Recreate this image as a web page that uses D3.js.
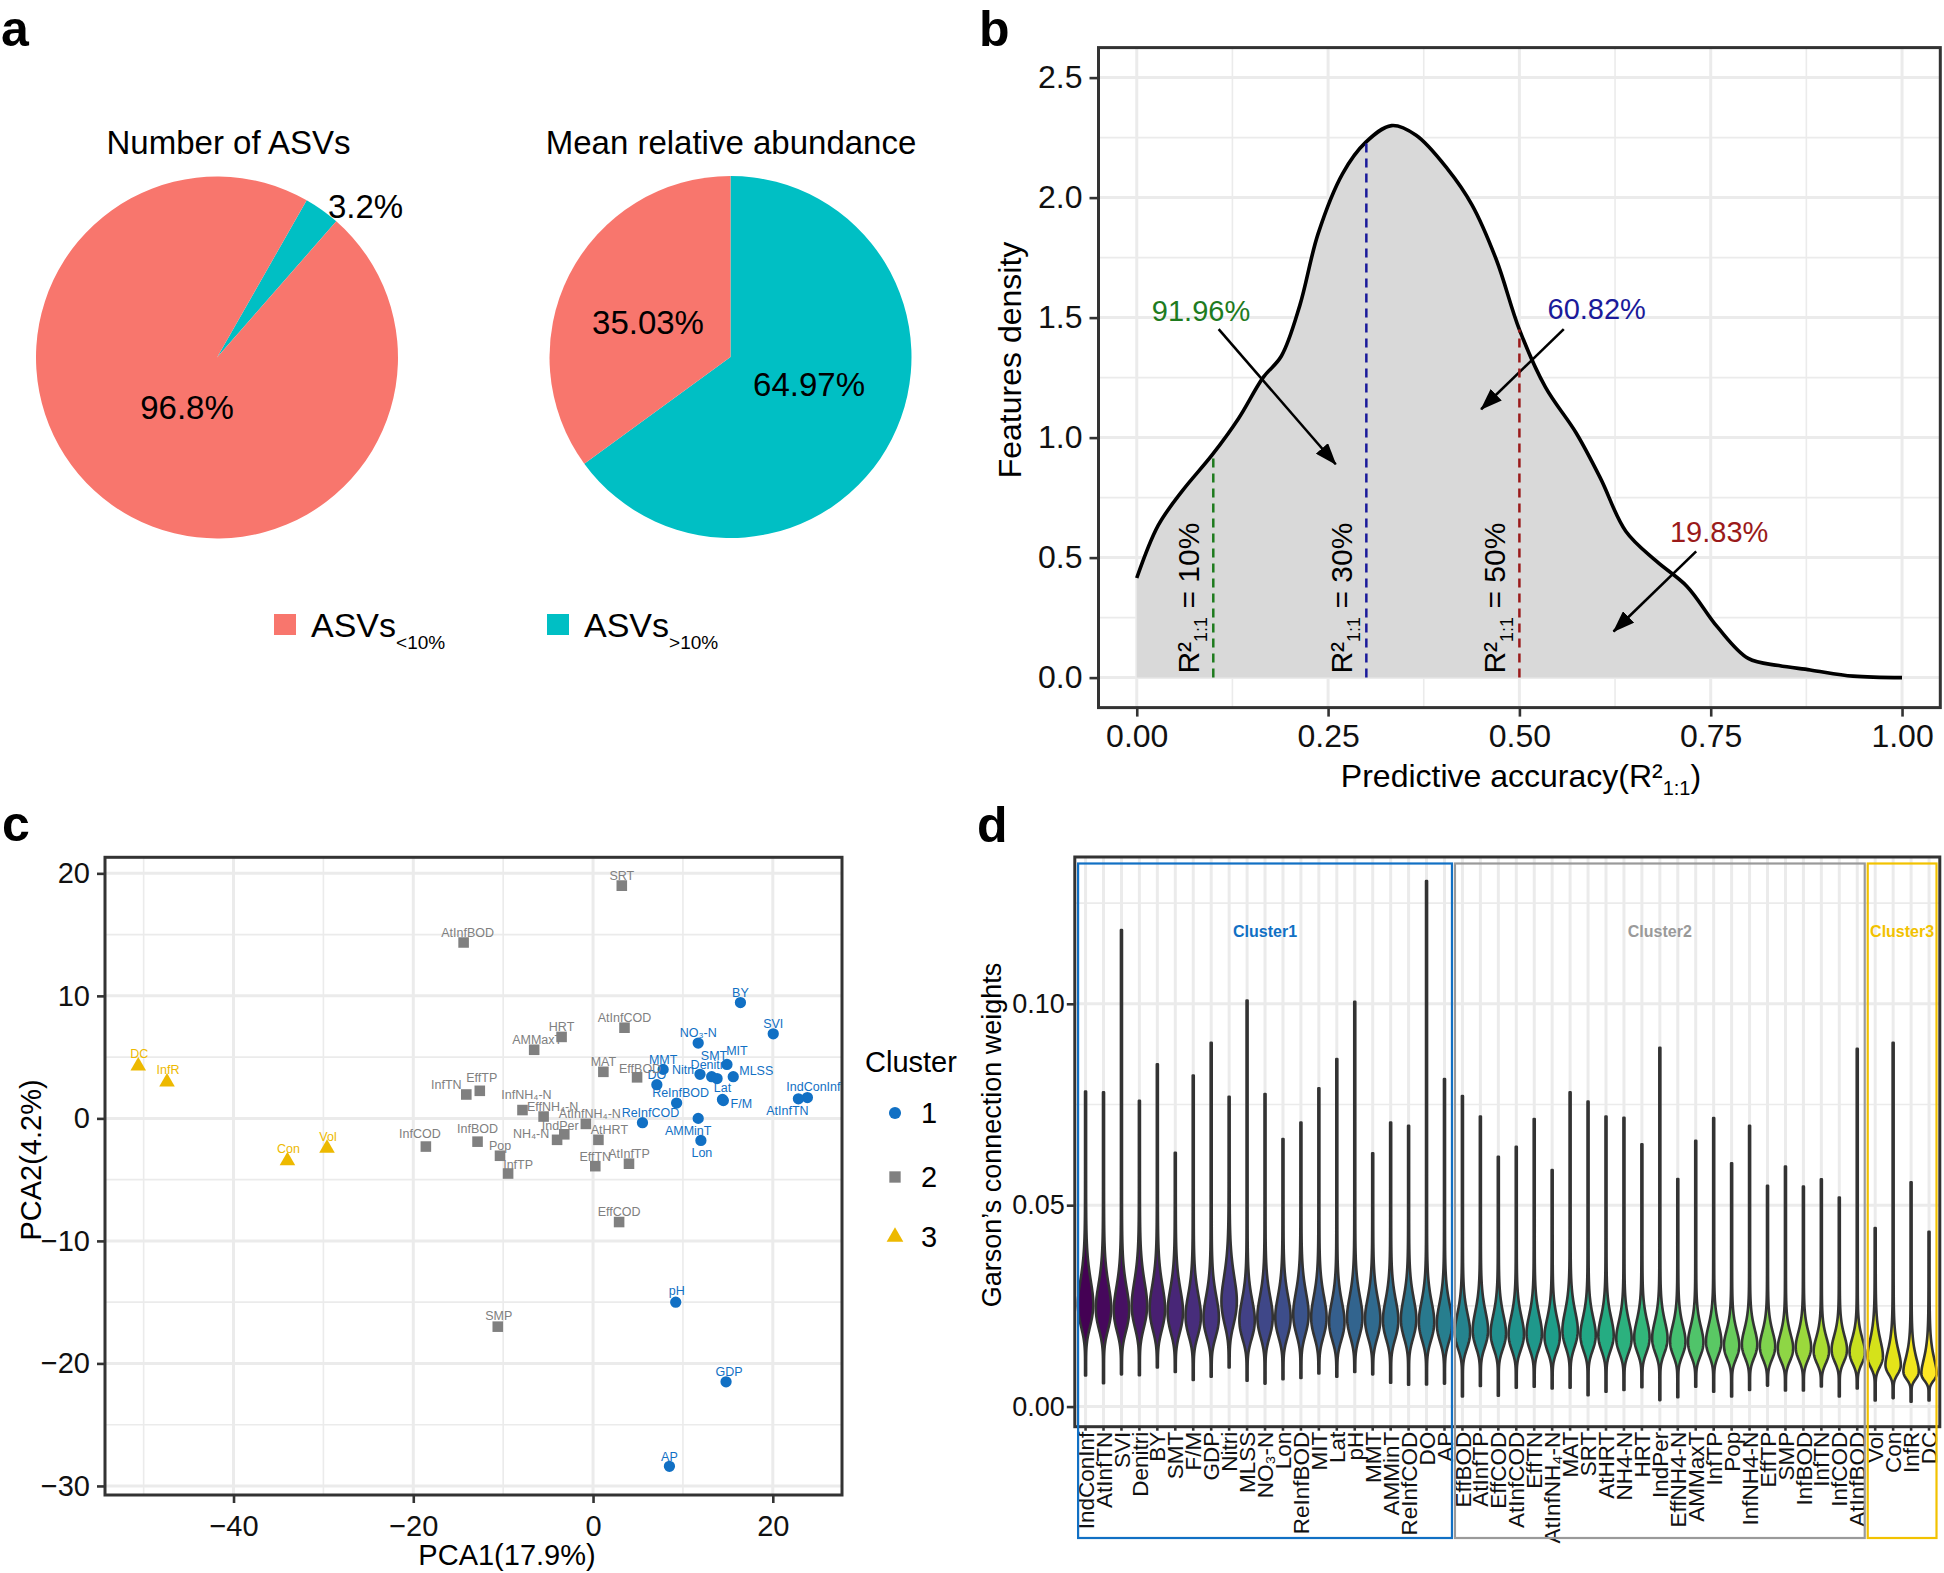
<!DOCTYPE html>
<html>
<head>
<meta charset="utf-8">
<title>Figure</title>
<script src="https://cdn.jsdelivr.net/npm/d3@7"></script>
<style>
html,body{margin:0;padding:0;background:#fff;}
svg{display:block;}
</style>
</head>
<body>
<div id="chart"></div>
<script>
// ===================== DATA =====================
// Panel a — pies (percent)
const asvGroups = ["ASVs>10%", "ASVs<10%"];
const numberOfASVs = [3.2, 96.8];
const meanRelAbundance = [64.97, 35.03];
const numberLabels = ["3.2%", "96.8%"];
const meanLabels = ["64.97%", "35.03%"];

// Panel b — density of predictive accuracy
const accuracyX = [0,0.028,0.06,0.099,0.133,0.165,0.189,0.213,0.237,0.269,0.299,0.333,0.365,0.406,0.438,0.47,0.5,0.534,0.574,0.606,0.639,0.679,0.719,0.759,0.799,0.839,0.88,0.936,1];
const featureDensity = [0.415,0.634,0.78,0.93,1.08,1.25,1.34,1.55,1.85,2.10,2.23,2.30,2.26,2.12,1.97,1.74,1.45,1.21,1.02,0.83,0.61,0.485,0.38,0.21,0.08,0.05,0.032,0.006,0];
const cutoffs = [0.1, 0.3, 0.5];
const cutoffDensity = [0.93, 2.23, 1.45];
const cutoffLabels = ["10%", "30%", "50%"];
const shareLabels = ["91.96%", "60.82%", "19.83%"];
const shareLabelX = [0.084, 0.601, 0.761];
const shareLabelY = [1.486, 1.494, 0.565];
const arrowFromX = [0.107, 0.558, 0.731];
const arrowFromY = [1.452, 1.452, 0.526];
const arrowToX = [0.260, 0.450, 0.623];
const arrowToY = [0.889, 1.118, 0.192];
const bXTicks = [0, 0.25, 0.5, 0.75, 1];
const bYTicks = [0, 0.5, 1, 1.5, 2, 2.5];

// Panel c — PCA of variables
const pcaNames = ["IndConInf","AtInfTN","SVI","Denitri","BY","SMT","F/M","GDP","Nitri","MLSS","NO3-N","Lon","ReInfBOD","MIT","Lat","pH","MMT","AMMinT","ReInfCOD","DO","AP",
  "EffBOD","AtInfTP","EffCOD","AtInfCOD","EffTN","AtInfNH4-N","MAT","SRT","AtHRT","NH4-N","HRT","IndPer","EffNH4-N","AMMaxT","InfTP","Pop","InfNH4-N","EffTP","SMP","InfBOD","InfTN","InfCOD","AtInfBOD",
  "Vol","Con","InfR","DC"];
const pca1 = [23.85,22.85,20.05,13.2,16.4,13.8,14.5,14.8,11.9,15.6,11.7,12.0,9.3,14.9,14.4,9.2,7.8,11.7,5.5,7.1,8.5,
  4.9,4.0,2.9,3.5,0.25,-0.8,1.15,3.2,0.6,-4.0,-3.5,-3.2,-5.5,-6.55,-9.45,-10.35,-7.85,-12.6,-10.6,-12.85,-14.1,-18.6,-14.4,
  -29.6,-34.0,-47.4,-50.6];
const pca2 = [1.7,1.6,6.9,3.4,9.45,3.25,1.45,-21.5,3.6,3.4,6.15,-1.8,1.25,4.4,1.55,-15.0,4.0,0.0,-0.35,2.75,-28.4,
  3.35,-3.7,-8.46,7.4,-3.9,-0.45,3.8,19.0,-1.75,-1.75,6.65,-1.3,0.15,5.6,-4.5,-3.05,0.68,2.25,-17.0,-1.9,1.95,-2.3,14.35,
  -2.44,-3.46,2.97,4.27];
const pcaCluster = [1,1,1,1,1,1,1,1,1,1,1,1,1,1,1,1,1,1,1,1,1,
  2,2,2,2,2,2,2,2,2,2,2,2,2,2,2,2,2,2,2,2,2,2,2,
  3,3,3,3];
const cXTicks = [-40, -20, 0, 20];
const cYTicks = [-30, -20, -10, 0, 10, 20];

// Panel d — Garson's connection weights (violins)
const garsonVars = ["IndConInf","AtInfTN","SVI","Denitri","BY","SMT","F/M","GDP","Nitri","MLSS","NO3-N","Lon","ReInfBOD","MIT","Lat","pH","MMT","AMMinT","ReInfCOD","DO","AP",
  "EffBOD","AtInfTP","EffCOD","AtInfCOD","EffTN","AtInfNH4-N","MAT","SRT","AtHRT","NH4-N","HRT","IndPer","EffNH4-N","AMMaxT","InfTP","Pop","InfNH4-N","EffTP","SMP","InfBOD","InfTN","InfCOD","AtInfBOD",
  "Vol","Con","InfR","DC"];
const garsonCluster = pcaCluster.slice();
const garsonMax = [0.0782,0.0780,0.1183,0.0759,0.0850,0.0630,0.0822,0.0903,0.0769,0.1008,0.0776,0.0664,0.0705,0.0790,0.0863,0.1005,0.0629,0.0705,0.0697,0.1305,0.0813,
  0.0771,0.0720,0.0620,0.0645,0.0714,0.0587,0.0780,0.0757,0.0720,0.0717,0.0651,0.0891,0.0565,0.0660,0.0716,0.0604,0.0697,0.0548,0.0596,0.0546,0.0564,0.0519,0.0888,
  0.0443,0.0903,0.0557,0.0434];
const garsonMin = [0.0077,0.0058,0.0080,0.0078,0.0097,0.0086,0.0066,0.0074,0.0097,0.0064,0.0057,0.0068,0.0071,0.0082,0.0074,0.0086,0.0080,0.0059,0.0054,0.0055,0.0057,
  0.0025,0.0051,0.0027,0.0047,0.0049,0.0045,0.0047,0.0028,0.0037,0.0041,0.0048,0.0016,0.0023,0.0049,0.0037,0.0025,0.0041,0.0052,0.0040,0.0040,0.0050,0.0025,0.0045,
  0.0015,0.0021,0.0012,0.0015];
const garsonMode = [0.0255,0.0245,0.0240,0.0252,0.0244,0.0236,0.0225,0.0222,0.0262,0.0215,0.0222,0.0222,0.0230,0.0222,0.0211,0.0222,0.0218,0.0215,0.0218,0.0211,0.0207,
  0.0185,0.0190,0.0183,0.0180,0.0182,0.0175,0.0190,0.0178,0.0178,0.0170,0.0172,0.0170,0.0162,0.0160,0.0162,0.0152,0.0155,0.0150,0.0145,0.0148,0.0138,0.0142,0.0136,
  0.0125,0.0103,0.0087,0.0082];
const garsonSpreadUp = [0.22,0.22,0.22,0.22,0.22,0.22,0.22,0.22,0.22,0.22,0.22,0.22,0.22,0.22,0.22,0.22,0.22,0.22,0.22,0.22,0.22,
  0.23,0.23,0.23,0.23,0.23,0.23,0.23,0.23,0.23,0.23,0.23,0.23,0.23,0.23,0.23,0.23,0.23,0.23,0.23,0.23,0.23,0.23,0.23,
  0.30,0.33,0.36,0.40];
const dYTicks = [0, 0.05, 0.10];
const clusterNames = ["Cluster1", "Cluster2", "Cluster3"];

// ===================== STYLE / LAYOUT =====================
const W = 1944, H = 1573;
const FONT = "'Liberation Sans', Arial, Helvetica, sans-serif";
const GRID = "#EBEBEB", INK = "#333333";
const clusterColor = {1: "#1170C4", 2: "#808080", 3: "#EDB900"};
const clusterRectColor = {1: "#1170C4", 2: "#9A9A9A", 3: "#F2C200"};
const displayName = n => ({"NO3-N":"NO\u2083-N","NH4-N":"NH\u2084-N","InfNH4-N":"InfNH\u2084-N","EffNH4-N":"EffNH\u2084-N","AtInfNH4-N":"AtInfNH\u2084-N"}[n] || n);
const axisName = n => ({"NO3-N":"NO\u2083-N","AtInfNH4-N":"AtInfNH\u2084-N"}[n] || n);

const svg = d3.select("#chart").append("svg")
  .attr("width", W).attr("height", H)
  .style("font-family", FONT);
svg.append("rect").attr("width", W).attr("height", H).attr("fill", "#fff");

const defs = svg.append("defs");
defs.append("marker").attr("id", "arrowhead")
  .attr("viewBox", "0 0 22 16").attr("refX", 21).attr("refY", 8)
  .attr("markerUnits", "userSpaceOnUse").attr("markerWidth", 22).attr("markerHeight", 16)
  .attr("orient", "auto")
  .append("path").attr("d", "M0,0 L22,8 L0,16 Z").attr("fill", "#000");

function letter(x, y, t) {
  svg.append("text").attr("x", x).attr("y", y).attr("font-size", 50)
    .attr("font-weight", "bold").attr("fill", "#000").text(t);
}
letter(1, 46, "a"); letter(979, 46, "b"); letter(2, 841, "c"); letter(977, 842, "d");

function styleAxis(g, fs) {
  g.attr("font-family", FONT).attr("font-size", fs);
  g.select(".domain").remove();
  g.selectAll(".tick line").attr("stroke", INK).attr("stroke-width", 2.6);
  g.selectAll(".tick text").attr("fill", "#111");
}

// ===================== PANEL a =====================
const pieColor = d3.scaleOrdinal().domain(asvGroups).range(["#00BFC4", "#F8766D"]);
const pieR = 181;
function drawPie(cx, cy, values, labels, startDeg, nudges) {
  const g = svg.append("g").attr("transform", `translate(${cx},${cy})`);
  const a0 = startDeg * Math.PI / 180;
  const arcs = d3.pie().sort(null).value(d => d).startAngle(a0).endAngle(a0 + 2 * Math.PI)(values);
  const arc = d3.arc().innerRadius(0).outerRadius(pieR);
  g.selectAll("path.slice").data(arcs).join("path").attr("class", "slice")
    .attr("d", arc).attr("fill", (d, i) => pieColor(asvGroups[i]));
  const ang = (d, i) => (d.startAngle + d.endAngle) / 2 + nudges[i].da * Math.PI / 180;
  g.selectAll("text.lab").data(arcs).join("text").attr("class", "lab")
    .attr("font-size", 33).attr("text-anchor", "middle").attr("dy", "0.35em").attr("fill", "#000")
    .attr("x", (d, i) => Math.sin(ang(d, i)) * pieR * nudges[i].r)
    .attr("y", (d, i) => -Math.cos(ang(d, i)) * pieR * nudges[i].r)
    .text((d, i) => labels[i]);
}
drawPie(217, 357.5, numberOfASVs, numberLabels, 29.7, [{da: 9.1, r: 1.17}, {da: -4.7, r: 0.324}]);
drawPie(730.5, 357, meanRelAbundance, meanLabels, 0, [{da: -8, r: 0.459}, {da: -4, r: 0.495}]);
svg.append("text").attr("x", 228.5).attr("y", 154).attr("text-anchor", "middle").attr("font-size", 33).text("Number of ASVs");
svg.append("text").attr("x", 731).attr("y", 154).attr("text-anchor", "middle").attr("font-size", 33).text("Mean relative abundance");

// legend
[{grp: "ASVs<10%", x: 274, sub: "<10%"}, {grp: "ASVs>10%", x: 547, sub: ">10%"}].forEach(it => {
  svg.append("rect").attr("x", it.x).attr("y", 614).attr("width", 22).attr("height", 21).attr("fill", pieColor(it.grp));
  const t = svg.append("text").attr("x", it.x + 37).attr("y", 637).attr("font-size", 34).attr("fill", "#000");
  t.append("tspan").text("ASVs");
  t.append("tspan").attr("dy", 12).attr("font-size", 19).text(it.sub);
});

// ===================== PANEL b =====================
{
  const bx = d3.scaleLinear().domain([-0.05, 1.05]).range([1098.5, 1940.3]);
  const by = d3.scaleLinear().domain([-0.125, 2.625]).range([707.6, 47.6]);
  const [L, R] = bx.range(), [B, T] = by.range();
  const g = svg.append("g");
  const minorX = [0.125, 0.375, 0.625, 0.875], minorY = [0.25, 0.75, 1.25, 1.75, 2.25];
  g.selectAll("line.mx").data(minorX).join("line").attr("x1", bx).attr("x2", bx).attr("y1", T).attr("y2", B).attr("stroke", GRID).attr("stroke-width", 1.6);
  g.selectAll("line.my").data(minorY).join("line").attr("y1", by).attr("y2", by).attr("x1", L).attr("x2", R).attr("stroke", GRID).attr("stroke-width", 1.6);
  g.selectAll("line.gx").data(bXTicks).join("line").attr("x1", bx).attr("x2", bx).attr("y1", T).attr("y2", B).attr("stroke", GRID).attr("stroke-width", 3);
  g.selectAll("line.gy").data(bYTicks).join("line").attr("y1", by).attr("y2", by).attr("x1", L).attr("x2", R).attr("stroke", GRID).attr("stroke-width", 3);

  const pts = accuracyX.map((x, i) => [x, featureDensity[i]]);
  g.append("path").datum(pts)
    .attr("d", d3.area().x(d => bx(d[0])).y0(by(0)).y1(d => by(d[1])).curve(d3.curveCatmullRom.alpha(0.5)))
    .attr("fill", "#D9D9D9");
  g.append("path").datum(pts)
    .attr("d", d3.line().x(d => bx(d[0])).y(d => by(d[1])).curve(d3.curveCatmullRom.alpha(0.5)))
    .attr("fill", "none").attr("stroke", "#000").attr("stroke-width", 3.6).attr("stroke-linejoin", "round");

  const cutColors = ["#1E7B1E", "#1A1A9A", "#9A1A1A"];
  cutoffs.forEach((c, i) => {
    g.append("line").attr("x1", bx(c)).attr("x2", bx(c)).attr("y1", by(0)).attr("y2", by(cutoffDensity[i]))
      .attr("stroke", cutColors[i]).attr("stroke-width", 2.5).attr("stroke-dasharray", "9,6");
    const t = g.append("text").attr("transform", `translate(${bx(c) - 14},${by(0) - 4}) rotate(-90)`)
      .attr("font-size", 30).attr("fill", "#000");
    t.append("tspan").text("R\u00B2");
    t.append("tspan").attr("dy", 8).attr("font-size", 18).text("1:1");
    t.append("tspan").attr("dy", -8).text(" = " + cutoffLabels[i]);
    g.append("text").attr("x", bx(shareLabelX[i])).attr("y", by(shareLabelY[i])).attr("text-anchor", "middle")
      .attr("font-size", 29).attr("fill", cutColors[i]).text(shareLabels[i]);
    g.append("line").attr("x1", bx(arrowFromX[i])).attr("y1", by(arrowFromY[i]))
      .attr("x2", bx(arrowToX[i])).attr("y2", by(arrowToY[i]))
      .attr("stroke", "#000").attr("stroke-width", 2.6).attr("marker-end", "url(#arrowhead)");
  });

  g.append("rect").attr("x", L).attr("y", T).attr("width", R - L).attr("height", B - T)
    .attr("fill", "none").attr("stroke", INK).attr("stroke-width", 3);
  const ay = g.append("g").attr("transform", `translate(${L},0)`)
    .call(d3.axisLeft(by).tickValues(bYTicks).tickFormat(d3.format(".1f")).tickSize(9).tickPadding(7));
  styleAxis(ay, 32);
  const ax = g.append("g").attr("transform", `translate(0,${B})`)
    .call(d3.axisBottom(bx).tickValues(bXTicks).tickFormat(d3.format(".2f")).tickSize(9).tickPadding(8));
  styleAxis(ax, 32);
  g.append("text").attr("transform", `translate(1021,360) rotate(-90)`).attr("text-anchor", "middle")
    .attr("font-size", 32).text("Features density");
  const xt = g.append("text").attr("x", 1521).attr("y", 787).attr("text-anchor", "middle").attr("font-size", 32);
  xt.append("tspan").text("Predictive accuracy(R\u00B2");
  xt.append("tspan").attr("dy", 8).attr("font-size", 20).text("1:1");
  xt.append("tspan").attr("dy", -8).text(")");
}

// ===================== PANEL c =====================
{
  const cx = d3.scaleLinear().domain([-54.3, 27.7]).range([105, 842]);
  const cy = d3.scaleLinear().domain([-30.74, 21.31]).range([1495, 857.3]);
  const [L, R] = cx.range(), [B, T] = cy.range();
  const g = svg.append("g");
  defs.append("clipPath").attr("id", "clipC").append("rect").attr("x", L).attr("y", T).attr("width", R - L).attr("height", B - T);
  const minorX = [-50, -30, -10, 10], minorY = [-25, -15, -5, 5, 15];
  g.selectAll("line.mx").data(minorX).join("line").attr("x1", cx).attr("x2", cx).attr("y1", T).attr("y2", B).attr("stroke", GRID).attr("stroke-width", 1.6);
  g.selectAll("line.my").data(minorY).join("line").attr("y1", cy).attr("y2", cy).attr("x1", L).attr("x2", R).attr("stroke", GRID).attr("stroke-width", 1.6);
  g.selectAll("line.gx").data(cXTicks).join("line").attr("x1", cx).attr("x2", cx).attr("y1", T).attr("y2", B).attr("stroke", GRID).attr("stroke-width", 3);
  g.selectAll("line.gy").data(cYTicks).join("line").attr("y1", cy).attr("y2", cy).attr("x1", L).attr("x2", R).attr("stroke", GRID).attr("stroke-width", 3);

  const symType = {1: d3.symbolCircle, 2: d3.symbolSquare, 3: d3.symbolTriangle};
  const symSize = {1: 100, 2: 112, 3: 105};
  const nudge = {
    "MIT":[10,-14],"SMT":[-3,-23],"Nitri":[-17,-5],"Denitri":[-3,-12],"MLSS":[23,-6],"F/M":[18,3],"Lat":[0,-12],
    "AMMinT":[-10,12],"Lon":[1,12],"IndConInf":[6,-11],"AtInfTN":[-11,12],"ReInfCOD":[8,-10],"ReInfBOD":[4,-10],
    "InfTN":[-20,-10],"EffTP":[2,-13],"InfNH4-N":[4,-15],"EffNH4-N":[9,-10],"AtInfNH4-N":[4,-10],"IndPer":[-4,-9],
    "NH4-N":[-26,-6],"AtHRT":[11,-10],"InfCOD":[-6,-13],"InfBOD":[0,-13],"InfTP":[10,-9],"AMMaxT":[3,-10],
    "EffBOD":[3,-9],"AtInfBOD":[4,-10],"GDP":[3,-10],"pH":[1,-12],"SMP":[1,-11],"DC":[1,-12],"InfR":[1,-12],"Con":[1,-12],"Vol":[1,-12]
  };
  const idx = d3.range(pcaNames.length);
  const pg = g.append("g").attr("clip-path", "url(#clipC)");
  pg.selectAll("path.pt").data(idx).join("path").attr("class", "pt")
    .attr("transform", i => `translate(${cx(pca1[i])},${cy(pca2[i])})`)
    .attr("d", i => d3.symbol().type(symType[pcaCluster[i]]).size(symSize[pcaCluster[i]])())
    .attr("fill", i => clusterColor[pcaCluster[i]]);
  pg.selectAll("text.pl").data(idx).join("text").attr("class", "pl")
    .attr("x", i => cx(pca1[i]) + (nudge[pcaNames[i]] || [0, -10])[0])
    .attr("y", i => cy(pca2[i]) + (nudge[pcaNames[i]] || [0, -10])[1])
    .attr("dy", "0.35em").attr("text-anchor", "middle").attr("font-size", 12.5)
    .attr("fill", i => clusterColor[pcaCluster[i]]).text(i => displayName(pcaNames[i]));

  g.append("rect").attr("x", L).attr("y", T).attr("width", R - L).attr("height", B - T)
    .attr("fill", "none").attr("stroke", INK).attr("stroke-width", 3);
  const ay = g.append("g").attr("transform", `translate(${L},0)`)
    .call(d3.axisLeft(cy).tickValues(cYTicks).tickFormat(d => d < 0 ? "\u2212" + Math.abs(d) : d).tickSize(8).tickPadding(7));
  styleAxis(ay, 29);
  const ax = g.append("g").attr("transform", `translate(0,${B})`)
    .call(d3.axisBottom(cx).tickValues(cXTicks).tickFormat(d => d < 0 ? "\u2212" + Math.abs(d) : d).tickSize(8).tickPadding(12));
  styleAxis(ax, 29);
  g.append("text").attr("x", 507).attr("y", 1565).attr("text-anchor", "middle").attr("font-size", 29).text("PCA1(17.9%)");
  g.append("text").attr("transform", "translate(41,1160) rotate(-90)").attr("text-anchor", "middle").attr("font-size", 29).text("PCA2(4.2%)");

  // legend
  g.append("text").attr("x", 865).attr("y", 1072).attr("font-size", 29).text("Cluster");
  [1, 2, 3].forEach((k, j) => {
    const yy = [1113, 1177, 1237][j];
    g.append("path").attr("transform", `translate(895,${yy})`)
      .attr("d", d3.symbol().type(symType[k]).size(symSize[k] * 1.15)()).attr("fill", clusterColor[k]);
    g.append("text").attr("x", 921).attr("y", yy).attr("dy", "0.36em").attr("font-size", 29).text(k);
  });
}

// ===================== PANEL d =====================
{
  const xd = d3.scaleBand().domain(garsonVars).range([1074.8, 1939.8]).paddingInner(0).paddingOuter(0.1);
  const yd = d3.scaleLinear().domain([-0.005, 0.13644]).range([1426.7, 857]);
  const L = 1074.8, R = 1939.8, [B, T] = yd.range();
  const bw = xd.bandwidth();
  const g = svg.append("g");
  const minorY = [0.025, 0.075, 0.125];
  g.selectAll("line.my").data(minorY).join("line").attr("y1", yd).attr("y2", yd).attr("x1", L).attr("x2", R).attr("stroke", GRID).attr("stroke-width", 1.6);
  g.selectAll("line.gy").data(dYTicks).join("line").attr("y1", yd).attr("y2", yd).attr("x1", L).attr("x2", R).attr("stroke", GRID).attr("stroke-width", 3);
  g.selectAll("line.gx").data(garsonVars).join("line")
    .attr("x1", d => xd(d) + bw / 2).attr("x2", d => xd(d) + bw / 2).attr("y1", T).attr("y2", B)
    .attr("stroke", GRID).attr("stroke-width", 3);

  const hwMax = 7.2, tail = 0.5, sigDown = 0.23;
  garsonVars.forEach((v, i) => {
    const c = xd(v) + bw / 2;
    const lo = garsonMin[i], hi = garsonMax[i], m = garsonMode[i], su = garsonSpreadUp[i];
    const n = 220;
    const vals = d3.range(n + 1).map(k => lo + (hi - lo) * k / n);
    const hw = val => { const s = val > m ? su : sigDown; const z = Math.log(val / m) / s; return tail + hwMax * Math.exp(-0.5 * z * z); };
    g.append("path").datum(vals)
      .attr("d", d3.area().y(d => yd(d)).x0(d => c - hw(d)).x1(d => c + hw(d)).curve(d3.curveLinear))
      .attr("fill", d3.interpolateViridis(i / (garsonVars.length - 1)))
      .attr("stroke", INK).attr("stroke-width", 2.6).attr("stroke-linejoin", "round");
  });

  g.append("rect").attr("x", L).attr("y", T).attr("width", R - L).attr("height", B - T)
    .attr("fill", "none").attr("stroke", INK).attr("stroke-width", 3);
  const ay = g.append("g").attr("transform", `translate(${L},0)`)
    .call(d3.axisLeft(yd).tickValues(dYTicks).tickFormat(d3.format(".2f")).tickSize(8).tickPadding(2));
  styleAxis(ay, 27);
  const ax = g.append("g").attr("transform", `translate(0,${B})`)
    .call(d3.axisBottom(xd).tickSize(4).tickFormat(axisName));
  styleAxis(ax, 22.5);
  ax.selectAll(".tick text").attr("transform", "rotate(-90)").attr("text-anchor", "end")
    .attr("x", -5).attr("y", 0).attr("dy", "0.36em");
  g.append("text").attr("transform", "translate(1001,1135) rotate(-90)").attr("text-anchor", "middle")
    .attr("font-size", 27).text("Garson\u2019s connection weights");

  // cluster boxes
  [1, 2, 3].forEach((k, j) => {
    const members = garsonVars.filter((v, i) => garsonCluster[i] === k);
    const x0 = xd(members[0]) + 1.5, x1 = xd(members[members.length - 1]) + bw - 1.5;
    g.append("rect").attr("x", x0).attr("y", 863.5).attr("width", x1 - x0).attr("height", 1538 - 863.5)
      .attr("fill", "none").attr("stroke", clusterRectColor[k]).attr("stroke-width", 2.2);
    g.append("text").attr("x", (x0 + x1) / 2).attr("y", yd(0.118)).attr("dy", "0.36em").attr("text-anchor", "middle")
      .attr("font-size", 16).attr("font-weight", "bold").attr("fill", clusterRectColor[k]).text(clusterNames[j]);
  });
}
</script>
</body>
</html>
